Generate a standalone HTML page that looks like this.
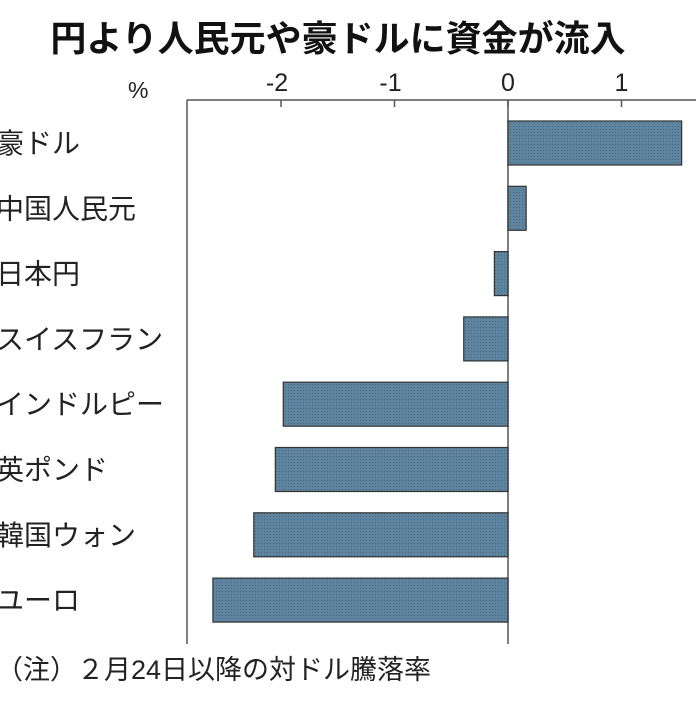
<!DOCTYPE html>
<html><head><meta charset="utf-8"><style>
body{margin:0;background:#fff;}
svg text{font-family:"Liberation Sans","Noto Sans CJK JP",sans-serif;}
</style></head><body>
<svg width="696" height="696" viewBox="0 0 696 696">
<defs><pattern id="dots" width="3" height="3" patternUnits="userSpaceOnUse"><rect width="3" height="3" fill="#5f84a0"/><rect width="1" height="1" fill="#4a6a82"/></pattern></defs>
<text x="338" y="51" text-anchor="middle" font-size="36" font-weight="bold" fill="#111">円より人民元や豪ドルに資金が流入</text>
<text x="128" y="98" font-size="23" fill="#222">%</text>
<g id="axes"></g>
<g id="bars"></g>
<text x="-4" y="679" font-size="27" fill="#222">（注）２月24日以降の対ドル騰落率</text>
</svg>
<script>
const categories=["豪ドル","中国人民元","日本円","スイスフラン","インドルピー","英ポンド","韓国ウォン","ユーロ"];
const values=[1.53,0.16,-0.12,-0.39,-1.98,-2.05,-2.24,-2.6];
const ticks=[-2,-1,0,1];
const NS="http://www.w3.org/2000/svg";
const x=v=>508+v*113.5;
const rowY=i=>121+i*65.3;
const axes=document.getElementById('axes'),bars=document.getElementById('bars');
function mk(t,a,p){const e=document.createElementNS(NS,t);for(const k in a)e.setAttribute(k,a[k]);p.appendChild(e);return e;}
let l=mk('line',{x1:187,y1:100,x2:696,y2:100,stroke:'#555','stroke-width':1.5},axes);


l=mk('line',{x1:187,y1:100,x2:187,y2:644,stroke:'#555','stroke-width':1.5},axes);


l=mk('line',{x1:x(0),y1:100,x2:x(0),y2:644,stroke:'#555','stroke-width':1.5},axes);


ticks.forEach(t=>{
 const tk=mk('line',{x1:x(t),y1:100,x2:x(t),y2:107,stroke:'#555','stroke-width':1.5},axes);
 
 
 const tx=mk('text',{x:x(t)-(t<0?4:0),y:91,'text-anchor':'middle','font-size':25,fill:'#222'},axes);
 tx.textContent=t;
 
 
});
categories.forEach((c,i)=>{
 const v=values[i];
 const r=mk('rect',{x:Math.min(x(0),x(v)),y:rowY(i),width:Math.abs(x(v)-x(0)),height:44,fill:'url(#dots)',stroke:'#333','stroke-width':1.2},bars);
 
 
 const tx=mk('text',{x:-4,y:rowY(i)+32,'font-size':28,fill:'#222'},bars);
 tx.textContent=c;
 
 
});
</script>
</body></html>
